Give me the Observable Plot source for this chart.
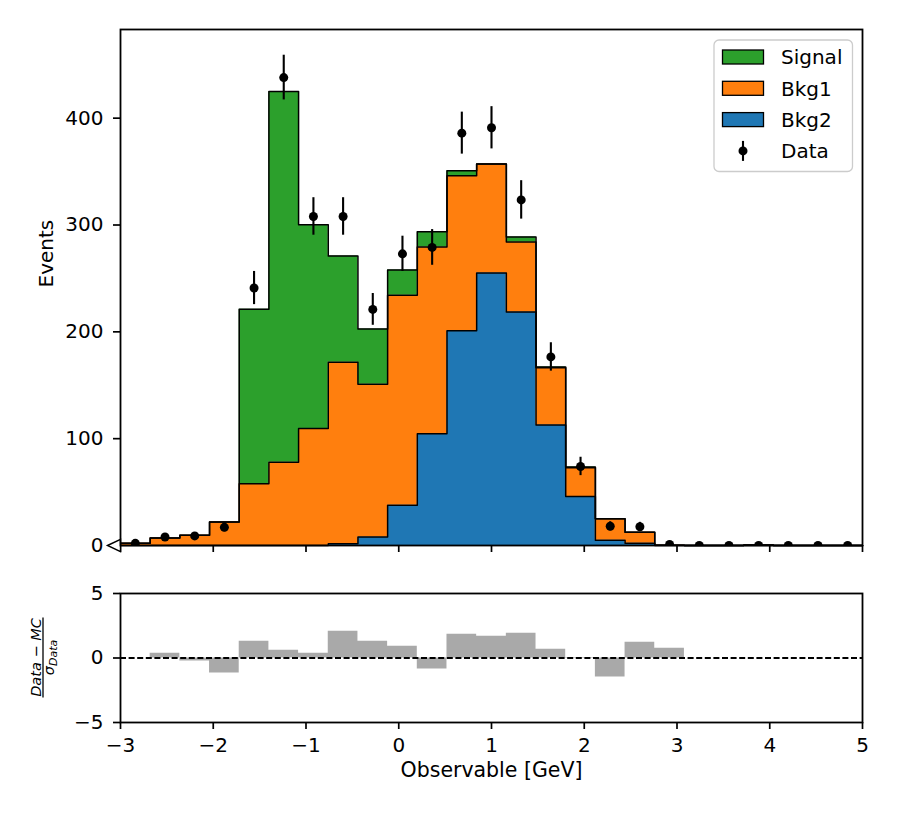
<!DOCTYPE html>
<html><head><meta charset="utf-8">
<script src="https://cdn.jsdelivr.net/npm/d3@7"></script>
<script src="https://cdn.jsdelivr.net/npm/@observablehq/plot@0.6"></script>
<style>
html,body{margin:0;padding:0;background:#fff;overflow:hidden}
#fig{width:899px;height:817px;position:relative}
#fig svg{display:block}
</style></head><body><div id="fig"></div>
<script>
// ---- data ----
const binEdges = [-3, -2.68, -2.36, -2.04, -1.72, -1.4, -1.08, -0.76, -0.44, -0.12, 0.2, 0.52, 0.84, 1.16, 1.48, 1.8, 2.12, 2.44, 2.76, 3.08, 3.4, 3.72, 4.04, 4.36, 4.68, 5];
const binCenters = [-2.84, -2.52, -2.2, -1.88, -1.56, -1.24, -0.92, -0.6, -0.28, 0.04, 0.36, 0.68, 1.0, 1.32, 1.64, 1.96, 2.28, 2.6, 2.92, 3.24, 3.56, 3.88, 4.2, 4.52, 4.84];
const bkg2   = [0, 0, 0, 0, 0, 0, 0, 1.6, 8, 37.7, 104.6, 201, 255, 218.6, 112.7, 45.9, 5, 2.2, 0, 0, 0, 0, 0, 0, 0];
const bkg1   = [2, 7, 9.7, 22, 57.8, 77.9, 109.5, 170, 142.9, 196.5, 174.9, 145, 102, 65.4, 53.7, 26.9, 20, 10.3, 0.3, 0, 0, 0.4, 0, 0, 0];
const signal = [0, 0, 0, 0, 163.4, 347, 190.7, 99.5, 51.7, 23.6, 14.3, 4.7, 0, 4.8, 0.6, 0.6, 0, 0, 0, 0, 0, 0, 0, 0, 0];
const dataCounts = [2, 8, 9, 17, 241, 438, 308, 308, 221, 273, 279, 386, 391, 323.5, 176.5, 74, 18, 17.5, 1, 0, 0, 0, 0, 0, 0];
const pull = [null, 0.36, -0.23, -1.17, 1.30, 0.60, 0.36, 2.07, 1.30, 0.91, -0.85, 1.84, 1.68, 1.92, 0.67, 0.03, -1.48, 1.22, 0.75, null, null, null, null, null, null];
const seriesNames = ["Signal", "Bkg1", "Bkg2"];
const seriesColors = ["#2ca02c", "#ff7f0e", "#1f77b4"];
const yTicksMain = [0, 100, 200, 300, 400];
const yTicksPull = [-5, 0, 5];
const xTicks = [-3, -2, -1, 0, 1, 2, 3, 4, 5];
const underflow = [{x: -3, y: 0}];

// ---- derived tables ----
const zeros = bkg2.map(() => 0);
const cum2 = bkg2.slice();
const cum1 = bkg2.map((v, i) => v + bkg1[i]);
const cum0 = cum1.map((v, i) => v + signal[i]);
function stepRows(lo, hi) {
  return binEdges.map((e, i) => {
    const k = Math.min(i, lo.length - 1);
    return {x: e, y1: lo[k], y2: hi[k]};
  });
}
const layers = [
  {name: "Bkg2", color: seriesColors[2], rows: stepRows(zeros, cum2)},
  {name: "Bkg1", color: seriesColors[1], rows: stepRows(cum2, cum1)},
  {name: "Signal", color: seriesColors[0], rows: stepRows(cum1, cum0)}
];
const dataRows = binCenters.map((x, i) => ({x, n: dataCounts[i]}));
const pullRows = binEdges.map((e, i) => ({x: e, p: pull[Math.min(i, pull.length - 1)] ?? 0}));

const fmt = d => d < 0 ? "\u2212" + Math.abs(d) : String(d);
const font = "'DejaVu Sans', sans-serif";
const triLeft = {draw(ctx) { ctx.moveTo(-13, 0); ctx.lineTo(0, -6.2); ctx.lineTo(0, 6.2); ctx.closePath(); }};

const main = Plot.plot({
  width: 899, height: 560,
  marginLeft: 120, marginRight: 37, marginTop: 29, marginBottom: 15,
  style: {fontFamily: font, fontSize: "20px", background: "white", color: "black", overflow: "visible"},
  x: {domain: [-3, 5]},
  y: {domain: [0, 483]},
  marks: [
    ...layers.map(L => Plot.areaY(L.rows, {x: "x", y1: "y1", y2: "y2", curve: "step-after", fill: L.color})),
    ...layers.map(L => Plot.lineY(L.rows, {x: "x", y: "y2", curve: "step-after", stroke: "black", strokeWidth: 1.5})),
    Plot.ruleX(dataRows.filter(d => d.n > 0), {x: "x", y1: d => d.n - Math.sqrt(d.n), y2: d => d.n + Math.sqrt(d.n), stroke: "black", strokeWidth: 2.1, clip: true}),
    Plot.dot(dataRows, {x: "x", y: "n", r: 4.5, fill: "black", clip: true}),
    Plot.axisY({ticks: yTicksMain, tickSize: 7, tickPadding: 10, strokeWidth: 1.7, tickFormat: fmt, label: null}),
    Plot.axisX({ticks: xTicks, tickSize: 7, strokeWidth: 1.7, tickFormat: () => "", label: null}),
    Plot.dot(underflow, {x: "x", y: "y", symbol: triLeft, fill: "white", stroke: "black", strokeWidth: 1.4}),
    Plot.frame({stroke: "black", strokeWidth: 1.8}),
    Plot.text(["Events"], {frameAnchor: "left", dx: -74, rotate: -90, fontSize: 20})
  ]
});

// legend
const lg = d3.select(main).append("g").attr("font-family", font).attr("font-size", 20).attr("text-anchor", "start");
lg.append("rect").attr("x", 714).attr("y", 40).attr("width", 138.5).attr("height", 131.5)
  .attr("rx", 5).attr("fill", "white").attr("fill-opacity", 0.8).attr("stroke", "#cccccc").attr("stroke-width", 1.3);
const rowY = [57, 88.3, 119.6, 150.9];
seriesNames.forEach((name, i) => {
  lg.append("rect").attr("x", 722.5).attr("y", rowY[i] - 7).attr("width", 41).attr("height", 14)
    .attr("fill", seriesColors[i]).attr("stroke", "black").attr("stroke-width", 1.3);
  lg.append("text").attr("x", 781).attr("y", rowY[i] + 7.3).attr("text-anchor", "start").text(name);
});
lg.append("line").attr("x1", 743).attr("x2", 743).attr("y1", rowY[3] - 10).attr("y2", rowY[3] + 10)
  .attr("stroke", "black").attr("stroke-width", 2.1);
lg.append("circle").attr("cx", 743).attr("cy", rowY[3]).attr("r", 4.5).attr("fill", "black");
lg.append("text").attr("x", 781).attr("y", rowY[3] + 7.3).attr("text-anchor", "start").text("Data");

const pullPlot = Plot.plot({
  width: 899, height: 257,
  marginLeft: 120, marginRight: 37, marginTop: 33, marginBottom: 95,
  style: {fontFamily: font, fontSize: "20px", background: "white", color: "black", overflow: "visible"},
  x: {domain: [-3, 5]},
  y: {domain: [-5, 5]},
  marks: [
    Plot.areaY(pullRows, {x: "x", y1: 0, y2: "p", curve: "step-after", fill: "#a9a9a9"}),
    Plot.ruleY([0], {stroke: "black", strokeDasharray: "6,2.6", strokeWidth: 1.9}),
    Plot.axisY({ticks: yTicksPull, tickSize: 7, tickPadding: 10, strokeWidth: 1.7, tickFormat: fmt, label: null}),
    Plot.axisX({ticks: xTicks, tickSize: 7, tickPadding: 8, strokeWidth: 1.7, tickFormat: fmt, label: null}),
    Plot.frame({stroke: "black", strokeWidth: 1.8}),
    Plot.text(["Observable [GeV]"], {frameAnchor: "bottom", dy: 54, fontSize: 20.5})
  ]
});

// fraction y label for the pull panel
const fl = d3.select(pullPlot).append("g").attr("transform", "translate(43,97.5) rotate(-90)")
  .attr("font-family", font).attr("font-style", "italic");
fl.append("text").attr("x", 0).attr("y", -2).attr("text-anchor", "middle").attr("font-size", 14.5).text("Data \u2212 MC");
fl.append("line").attr("x1", -40).attr("x2", 40).attr("y1", 0).attr("y2", 0).attr("stroke", "black").attr("stroke-width", 1.3);
const den = fl.append("text").attr("x", 0).attr("y", 10.5).attr("text-anchor", "middle");
den.append("tspan").attr("font-size", 14.5).text("\u03c3");
den.append("tspan").attr("font-size", 11).attr("dy", 3).text("Data");

const fig = document.getElementById("fig");
fig.appendChild(main);
fig.appendChild(pullPlot);
</script>
</body></html>
